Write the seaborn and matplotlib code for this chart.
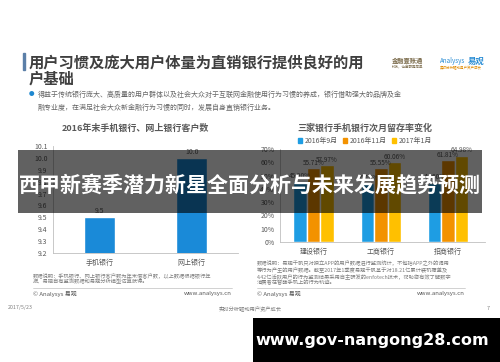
import numpy as np
import pandas as pd
import seaborn as sns
import matplotlib.pyplot as plt
from matplotlib.patches import Rectangle

sns.set_style("white")
plt.rcParams['font.family'] = ['Noto Sans CJK SC', 'DejaVu Sans']

# left chart data
channels = ['手机银行', '网上银行']
customers = [9.5, 10.0]

# right chart data
banks = ['建设银行', '工商银行', '招商银行']
periods = ['2016年9月', '2016年11月', '2017年1月']
rate_sep16 = [45.9, 44.1, 44.60]
rate_nov16 = [55.71, 55.55, 61.81]
rate_jan17 = [57.97, 60.06, 64.98]
y_ticks_left = [9.2, 9.3, 9.4, 9.5, 9.6, 9.7, 9.8, 9.9, 10.0, 10.1]
y_ticks_right = [0, 10, 20, 30, 40, 50, 60, 70]

W, H = 500, 362
fig = plt.figure(figsize=(5, 3.62), dpi=100)


def fx(px):
    return px / W


def fy(py):
    return 1 - py / H


grey = '#595959'

# slide title
fig.add_artist(Rectangle((fx(23), fy(70)), fx(2), 17 / H, color='#5b7fa8', transform=fig.transFigure))
fig.text(fx(29), fy(62), '用户习惯及庞大用户体量为直销银行提供良好的用', fontsize=11, fontweight='bold',
         color='#3f3f3f', va='center')
fig.text(fx(29), fy(79), '户基础', fontsize=11, fontweight='bold', color='#3f3f3f', va='center')

# logos (text stand-ins)
fig.text(fx(392), fy(60), '金融壹账通', fontsize=4.5, color='#7a6a4a', va='center', fontweight='bold')
fig.text(fx(392), fy(67), '科技，让金融更简单', fontsize=2.5, color='#7a6a4a', va='center')
fig.text(fx(440), fy(61), 'Analysys', fontsize=4.5, color='#2a8dd4', va='center', style='italic')
fig.text(fx(468), fy(61), '易观', fontsize=6, color='#2a8dd4', va='center', fontweight='bold')
fig.text(fx(440), fy(68), '实时分析驱动用户资产成长', fontsize=2.5, color='#e08a00', va='center')

# bullet text
fig.text(fx(29), fy(95), '●', fontsize=4, color='#1e88d0', va='center')
fig.text(fx(38), fy(95), '得益于传统银行庞大、高质量的用户群体以及社会大众对于互联网金融使用行为习惯的养成，银行借助强大的品牌及金',
         fontsize=5, color='#666666', va='center')
fig.text(fx(38), fy(108), '融专业度，在满足社会大众新金融行为习惯的同时，发展自身直销银行业务。',
         fontsize=5, color='#666666', va='center')

# ---- left chart
ax1 = fig.add_axes([fx(53), fy(253), fx(238) - fx(53), (253 - 146) / H])
df1 = pd.DataFrame({'channel': channels, 'customers': customers})
sns.barplot(data=df1, x='channel', y='customers', color='#1a8ad8', width=0.33, ax=ax1, saturation=1)
ax1.set_ylim(9.2, 10.1)
ax1.set_xlim(-0.5, 1.5)
ax1.set_yticks(y_ticks_left)
ax1.set_yticklabels([f'{v:.1f}' for v in y_ticks_left])
for i, v in enumerate(customers):
    ax1.text(i, v + 0.02, f'{v:.1f}', ha='center', va='bottom', fontsize=5, color=grey)
ax1.set_xlabel('')
ax1.set_ylabel('')
ax1.tick_params(axis='both', labelsize=5, colors=grey, length=2, pad=2)
ax1.tick_params(axis='x', length=0, pad=4)
for s in ['top', 'right']:
    ax1.spines[s].set_visible(False)
for s in ['left', 'bottom']:
    ax1.spines[s].set_color('#bfbfbf')
    ax1.spines[s].set_linewidth(0.6)
fig.text(fx(135), fy(128), '2016年末手机银行、网上银行客户数', fontsize=6.5, fontweight='bold',
         color=grey, ha='center', va='center')

# ---- right chart
ax2 = fig.add_axes([fx(280), fy(242), fx(485) - fx(280), (242 - 149) / H])
df2 = pd.DataFrame({
    'bank': banks * 3,
    'period': [periods[0]] * 3 + [periods[1]] * 3 + [periods[2]] * 3,
    'rate': rate_sep16 + rate_nov16 + rate_jan17,
})
palette = ['#1e9de3', '#f39200', '#ffc000']
sns.barplot(data=df2, x='bank', y='rate', hue='period', palette=palette, width=0.6, ax=ax2,
            saturation=1, legend=False)
ax2.set_ylim(0, 70)
ax2.set_xlim(-0.5, 2.55)
ax2.set_yticks(y_ticks_right)
ax2.set_yticklabels([f'{v}%' for v in y_ticks_right])
for j, vals in enumerate([rate_sep16, rate_nov16, rate_jan17]):
    for i, v in enumerate(vals):
        ax2.text(i + (j - 1) * 0.2, v + 1, f'{v:.2f}%', ha='center', va='bottom', fontsize=4.6, color=grey)
ax2.set_xlabel('')
ax2.set_ylabel('')
ax2.tick_params(axis='both', labelsize=5, colors=grey, length=2, pad=2)
ax2.tick_params(axis='x', length=0, pad=4)
for s in ['top', 'right']:
    ax2.spines[s].set_visible(False)
for s in ['left', 'bottom']:
    ax2.spines[s].set_color('#bfbfbf')
    ax2.spines[s].set_linewidth(0.6)
fig.text(fx(365), fy(128), '三家银行手机银行次月留存率变化', fontsize=6.5, fontweight='bold',
         color=grey, ha='center', va='center')
handles = [Rectangle((0, 0), 1, 1, color=c) for c in palette]
fig.legend(handles, periods, loc='center', bbox_to_anchor=(fx(365), fy(141)), ncol=3, frameon=False,
           fontsize=5, labelcolor=grey, handlelength=0.6, handleheight=0.6, handletextpad=0.3,
           columnspacing=0.8)

# footnotes
fn = dict(fontsize=3.8, color='#7f7f7f', va='center')
fig.text(fx(33), fy(275), '数据说明：手机银行、网上银行客户数为年末借客户数，以上数据根据银行年', **fn)
fig.text(fx(33), fy(282), '报、易观自有监测数据和易观分析模型估算获得。', **fn)
fig.text(fx(257), fy(262), '数据说明：易观千帆只对独立APP的用户数据进行监测统计，不包括APP之外的调用', **fn)
fig.text(fx(257), fy(269), '等行为产生的用户数据。截至2017年1季度易观千帆基于对18.21亿累计装机覆盖及', **fn)
fig.text(fx(257), fy(276), '4.42亿活跃用户的行为监测结果采用自主研发的enfotech技术，帮助您有效了解数字', **fn)
fig.text(fx(257), fy(283), '消费者在智能手机上的行为轨迹。', **fn)
for x0, x1 in [(33, 232), (257, 465)]:
    fig.add_artist(plt.Line2D([fx(x0), fx(x1)], [fy(288), fy(288)], color='#bfbfbf', lw=0.5,
                              transform=fig.transFigure))
    fig.text(fx(x0), fy(294), '© Analysys 易观', fontsize=4.3, color='#595959', va='center')
    fig.text(fx(x1), fy(294), 'www.analysys.cn', fontsize=4.3, color='#595959', va='center', ha='right')

# slide footer
fig.text(fx(8), fy(308), '2017/5/23', fontsize=3.8, color='#7f7f7f', va='center')
fig.text(fx(250), fy(308), '实时分析驱动用户资产成长', fontsize=3.8, color='#7f7f7f', va='center', ha='center')
fig.text(fx(487), fy(308), '7', fontsize=3.8, color='#7f7f7f', va='center')

# overlay banner
fig.add_artist(Rectangle((fx(18), fy(213)), fx(482) - fx(18), (213 - 150) / H, color='black', alpha=0.62,
                         transform=fig.transFigure, lw=0))
fig.text(fx(250), fy(186), '西甲新赛季潜力新星全面分析与未来发展趋势预测', fontsize=15.1, fontweight='bold',
         color='white', ha='center', va='center')

# bottom-right site box
fig.add_artist(Rectangle((fx(253), 0), 1 - fx(253), (362 - 318) / H, color='black',
                         transform=fig.transFigure, lw=0))
fig.text(fx(372), fy(340), 'www.gov-nangong28.com', fontsize=11.5, fontweight='bold', color='white',
         ha='center', va='center', family='DejaVu Sans')

fig.savefig('out.png', dpi=100)
